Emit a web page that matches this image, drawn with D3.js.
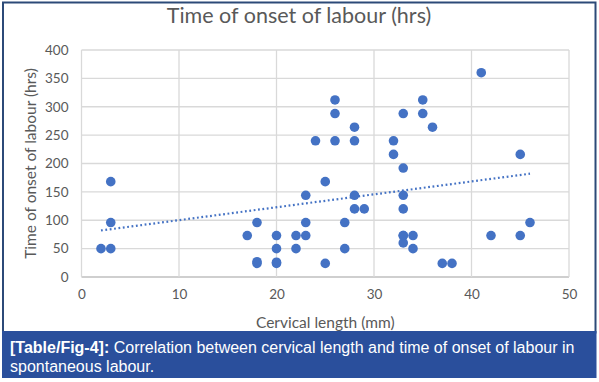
<!DOCTYPE html>
<html><head><meta charset="utf-8">
<script src="https://cdn.jsdelivr.net/npm/d3@7"></script>
<style>
html,body{margin:0;padding:0;background:#fff;}
svg{display:block;}
</style></head>
<body>
<script>
// Data
const cervicalLength = [2,3,3,3,17,18,18,18,20,20,20,20,22,22,23,23,23,24,25,25,26,26,26,27,27,28,28,28,28,29,32,32,33,33,33,33,33,33,33,34,34,35,35,36,37,38,41,42,45,45,46];
const onsetHours     = [50,50,168,96,73,96,24,27,73,50,24,26,73,50,73,96,144,240,168,24,240,288,312,96,50,264,240,144,120,120,240,216,288,192,144,120,73,60,73,73,50,312,288,264,24,24,360,73,216,73,96];
const trendX = [2, 46];
const trendY = [82, 182];
const xTicks = [0,10,20,30,40,50];
const yTicks = [0,50,100,150,200,250,300,350,400];
const titleText = "Time of onset of labour (hrs)";
const xTitle = "Cervical length (mm)";
const yTitle = "Time of onset of labour (hrs)";
const captionBold = "[Table/Fig-4]:";
const captionLine1 = " Correlation between cervical length and time of onset of labour in";
const captionLine2 = "spontaneous labour.";

const W = 599, H = 382;
const svg = d3.select("body").append("svg").attr("width", W).attr("height", H);

// outer frame
svg.append("rect").attr("x",0).attr("y",0).attr("width",W).attr("height",H).attr("fill","#fff");
svg.append("rect").attr("x",3).attr("y",2.5).attr("width",592.5).attr("height",330)
  .attr("fill","none").attr("stroke","#2c4a78").attr("stroke-width",2);
// caption band
svg.append("rect").attr("x",2).attr("y",331).attr("width",594.5).attr("height",47).attr("fill","#2a4f9c");

const x = d3.scaleLinear().domain([0,50]).range([81.5,569]);
const y = d3.scaleLinear().domain([0,400]).range([277,50]);

const grey = "#595959";
const font = "Lato, 'Open Sans', sans-serif";

// gridlines
svg.append("g").selectAll("line.h").data(yTicks).join("line")
  .attr("x1", x(0)).attr("x2", x(50)).attr("y1", d=>y(d)).attr("y2", d=>y(d))
  .attr("stroke", d=> d===0 ? "#bfbfbf" : "#d9d9d9").attr("stroke-width", 1.3);
svg.append("g").selectAll("line.v").data(xTicks).join("line")
  .attr("x1", d=>x(d)).attr("x2", d=>x(d)).attr("y1", y(0)).attr("y2", y(400))
  .attr("stroke","#d9d9d9").attr("stroke-width",1.3);

// axes labels via d3 axes
const xAxis = svg.append("g").attr("transform",`translate(0,${y(0)})`)
  .call(d3.axisBottom(x).tickValues(xTicks).tickSize(0).tickPadding(12));
const yAxis = svg.append("g").attr("transform",`translate(${x(0)},0)`)
  .call(d3.axisLeft(y).tickValues(yTicks).tickSize(0).tickPadding(13));
[xAxis,yAxis].forEach(a=>{
  a.select(".domain").remove();
  a.selectAll("text").attr("fill",grey).style("font-family",font).style("font-size","13.5px");
});

// trendline
svg.append("line")
  .attr("x1", x(trendX[0])).attr("y1", y(trendY[0]))
  .attr("x2", x(trendX[1])).attr("y2", y(trendY[1]))
  .attr("stroke","#4472c4").attr("stroke-width",2.2)
  .attr("stroke-dasharray","1.8,2.6");

// points
svg.append("g").selectAll("circle").data(cervicalLength.map((d,i)=>[d,onsetHours[i]])).join("circle")
  .attr("cx", d=>x(d[0])).attr("cy", d=>y(d[1])).attr("r", 4.8).attr("fill","#4472c4");

// titles
svg.append("text").attr("x", 299).attr("y", 23).attr("text-anchor","middle")
  .attr("fill",grey).style("font-family",font).style("font-size","21.5px").text(titleText);
svg.append("text").attr("x", (x(0)+x(50))/2).attr("y", 328).attr("text-anchor","middle")
  .attr("fill",grey).style("font-family",font).style("font-size","15.5px").text(xTitle);
svg.append("text").attr("transform",`translate(36,${(y(0)+y(400))/2}) rotate(-90)`).attr("text-anchor","middle")
  .attr("fill",grey).style("font-family",font).style("font-size","15.5px").text(yTitle);

// caption
const cap = svg.append("text").attr("x",10).attr("y",353).attr("fill","#fff")
  .style("font-family","'Liberation Sans', Arial, sans-serif").style("font-size","16px");
cap.append("tspan").style("font-weight","bold").text(captionBold);
cap.append("tspan").text(captionLine1);
svg.append("text").attr("x",10).attr("y",372).attr("fill","#fff")
  .style("font-family","'Liberation Sans', Arial, sans-serif").style("font-size","16px").text(captionLine2);
</script>
</body></html>
